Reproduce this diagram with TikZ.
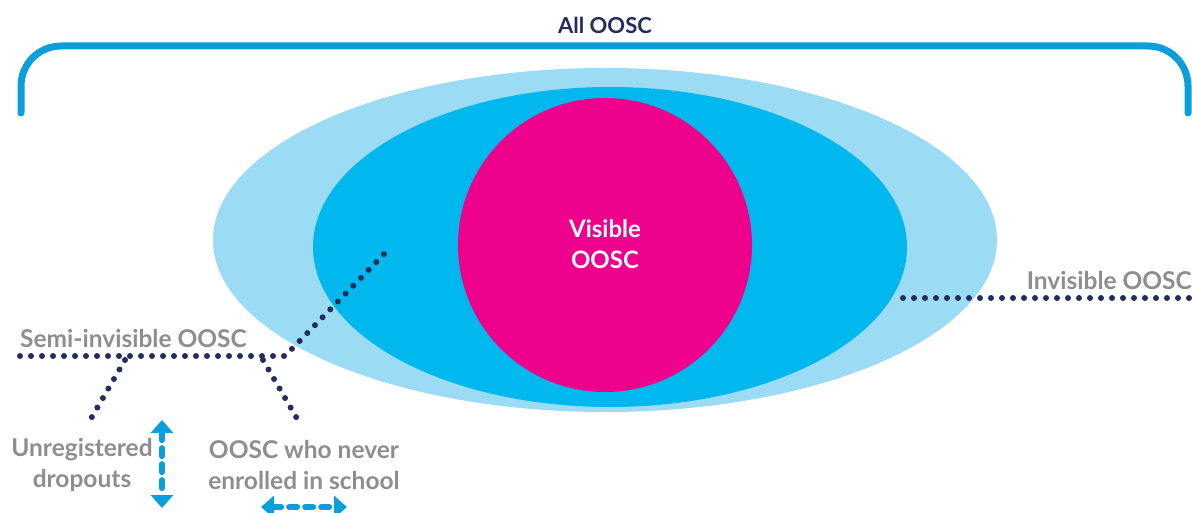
\documentclass[tikz,border=0pt]{standalone}
\usepackage{fontspec}
\setmainfont{Lato}
\usetikzlibrary{arrows.meta}

\definecolor{bracketblue}{HTML}{0A9FDA}
\definecolor{paleblue}{HTML}{9BDBF4}
\definecolor{midblue}{HTML}{00B8EE}
\definecolor{oosmagenta}{HTML}{EC008C}
\definecolor{navydot}{HTML}{222C5E}
\definecolor{labelgray}{HTML}{8C8E91}

\begin{document}
\begin{tikzpicture}[x=1pt,y=-1pt,
  dotline/.style={navydot,line width=6pt,line cap=round,dash pattern=on 0pt off 11pt},
  grouplabel/.style={text=labelgray,font=\bfseries\fontsize{24.5}{31}\selectfont,align=center,inner sep=0pt},
  dblarrow/.style={bracketblue,line width=6pt,line cap=round,dash pattern=on 8pt off 8pt,
    {Triangle[length=13pt,width=22pt]}-{Triangle[length=13pt,width=22pt]}}]
  \useasboundingbox (0,0) rectangle (1192,513);

  \draw[bracketblue,line width=7pt,line cap=round,rounded corners=40pt]
    (21,113) -- (21,46) -- (1188,46) -- (1188,113);
  \node[text=navydot,font=\bfseries\fontsize{22}{24}\selectfont] (all) at (605,25) {All OOSC};

  \fill[paleblue] (605,240) ellipse [x radius=392, y radius=172];
  \fill[midblue] (610,247) ellipse [x radius=297, y radius=160];
  \fill[oosmagenta] (605,245) circle (147);
  \node[text=white,font=\bfseries\fontsize{24}{31}\selectfont,align=center] (visible) at (605,244) {Visible\\OOSC};

  \node[grouplabel,anchor=east] (invisible) at (1192,280) {Invisible OOSC};
  \node[grouplabel,anchor=west] (semi) at (20,338) {Semi-invisible OOSC};
  \node[grouplabel] (dropouts) at (82,465) {Unregistered\\dropouts};
  \node[grouplabel] (never) at (304,465) {OOSC who never\\enrolled in school};

  \coordinate (invL) at (903,298);
  \coordinate (invR) at (1192,298);
  \coordinate (semiL) at (20,356);
  \coordinate (semiK) at (285,356);
  \coordinate (semiT) at (388,250);
  \coordinate (dropA) at (125,360);
  \coordinate (dropB) at (89,422);
  \coordinate (neverA) at (263,360);
  \coordinate (neverB) at (299,422);
  \draw[dotline] (invL) -- (invR);
  \draw[dotline] (semiL) -- (semiK) -- (semiT);
  \draw[dotline] (dropA) -- (dropB);
  \draw[dotline] (neverA) -- (neverB);

  \coordinate (vtop) at (162,420);
  \coordinate (vbot) at (162,508);
  \coordinate (hleft) at (261,507);
  \coordinate (hright) at (347,507);
  \draw[dblarrow] (vtop) -- (vbot);
  \draw[dblarrow] (hleft) -- (hright);
\end{tikzpicture}
\end{document}
